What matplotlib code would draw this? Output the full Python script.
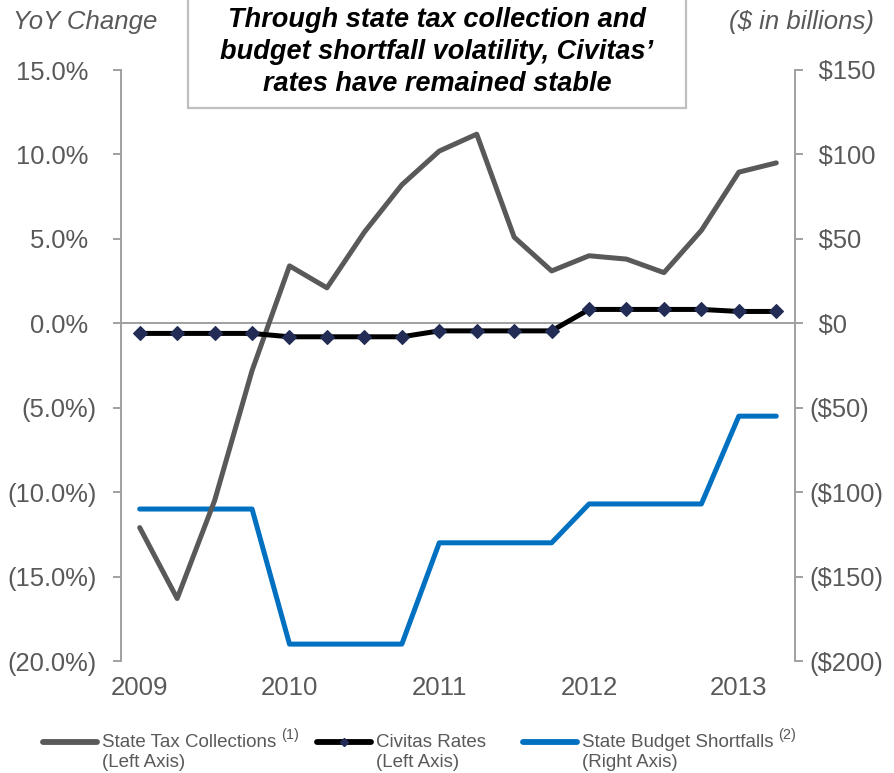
import numpy as np
import matplotlib
matplotlib.use("Agg")
import matplotlib.pyplot as plt
from matplotlib.patches import Rectangle
from matplotlib.lines import Line2D
from matplotlib.legend_handler import HandlerLine2D

plt.rcParams['font.family'] = ['Liberation Sans', 'DejaVu Sans']

# ---------------- data ----------------
quarters = ['2009Q1', '2009Q2', '2009Q3', '2009Q4',
            '2010Q1', '2010Q2', '2010Q3', '2010Q4',
            '2011Q1', '2011Q2', '2011Q3', '2011Q4',
            '2012Q1', '2012Q2', '2012Q3', '2012Q4',
            '2013Q1', '2013Q2']
tax_collections = [-12.1, -16.3, -10.5, -2.8, 3.4, 2.1, 5.4, 8.2, 10.2, 11.2,
                   5.1, 3.1, 4.0, 3.8, 3.0, 5.5, 8.95, 9.5]
civitas_rates = [-0.6, -0.6, -0.6, -0.6, -0.8, -0.8, -0.8, -0.8, -0.45, -0.45,
                 -0.45, -0.45, 0.82, 0.82, 0.82, 0.82, 0.7, 0.7]
budget_shortfalls = [-110, -110, -110, -110, -190, -190, -190, -190, -130, -130,
                     -130, -130, -107, -107, -107, -107, -55, -55]

year_labels = ['2009', '2010', '2011', '2012', '2013']
left_ticks = [-20, -15, -10, -5, 0, 5, 10, 15]
right_ticks = [-200, -150, -100, -50, 0, 50, 100, 150]

series_names = ['State Tax Collections\n(Left Axis)',
                'Civitas Rates\n(Left Axis)',
                'State Budget Shortfalls\n(Right Axis)']
footnotes = ['(1)', None, '(2)']

title = "Through state tax collection and\nbudget shortfall volatility, Civitas\u2019\nrates have remained stable"

# ---------------- styles ----------------
C_GREY = '#595959'
C_BLACK = '#000000'
C_NAVY = '#232C55'
C_BLUE = '#0070C0'
C_AXIS = '#A0A0A0'
C_TEXT = '#595959'
SP = '\u2004'


def pct_label(v):
    return f"{v:.1f}%{SP}" if v >= 0 else f"({abs(v):.1f}%)"


def usd_label(v):
    return f"{SP}${v:.0f}" if v >= 0 else f"(${abs(v):.0f})"


W, H = 894, 773
fig = plt.figure(figsize=(W / 100, H / 100), dpi=100)
ax = fig.add_axes([121 / W, 1 - 661 / H, (795 - 121) / W, (661 - 70) / H])
ax2 = ax.twinx()
ax.set_zorder(ax2.get_zorder() + 1)
ax.patch.set_visible(False)

x = np.arange(len(quarters))

ax.axhline(0, color=C_AXIS, lw=1.4, zorder=1)
ax.plot(x, tax_collections, color=C_GREY, lw=3.6, solid_capstyle='round',
        solid_joinstyle='round', zorder=3)
ax.plot(x, civitas_rates, color=C_BLACK, lw=3.6, marker='D', ms=6.8,
        mfc=C_NAVY, mec=C_NAVY, mew=0.8, solid_capstyle='round',
        solid_joinstyle='round', zorder=4)
ax2.plot(x, budget_shortfalls, color=C_BLUE, lw=3.6, solid_capstyle='round',
         solid_joinstyle='round')

ax.set_xlim(-0.5, len(quarters) - 0.5)
ax.set_ylim(left_ticks[0], left_ticks[-1])
ax2.set_ylim(right_ticks[0], right_ticks[-1])

year_pos = [i for i, q in enumerate(quarters) if q.endswith('Q1')]
ax.set_xticks(year_pos)
ax.set_xticklabels(year_labels)
ax.set_yticks(left_ticks)
ax.set_yticklabels([pct_label(v) for v in left_ticks])
ax2.set_yticks(right_ticks)
ax2.set_yticklabels([usd_label(v) for v in right_ticks])

for a in (ax, ax2):
    for s in ('top', 'bottom'):
        a.spines[s].set_visible(False)
ax.spines['right'].set_visible(False)
ax2.spines['left'].set_visible(False)
ax.spines['left'].set_color(C_AXIS)
ax.spines['left'].set_linewidth(1.4)
ax2.spines['right'].set_color(C_AXIS)
ax2.spines['right'].set_linewidth(1.4)

ax.tick_params(axis='y', direction='out', length=6, width=1.4, color=C_AXIS,
               labelcolor=C_TEXT, labelsize=18.4, pad=11.5)
ax2.tick_params(axis='y', direction='out', length=6, width=1.4, color=C_AXIS,
                labelcolor=C_TEXT, labelsize=18.4, pad=4.5)
ax.tick_params(axis='x', length=0, labelcolor=C_TEXT, labelsize=18.6, pad=11)

# axis captions
fig.text(13 / W, 1 - 22 / H, 'YoY Change', fontsize=18.5, style='italic',
         color=C_TEXT, ha='left', va='center')
fig.text(874 / W, 1 - 22 / H, '($ in billions)', fontsize=18.5, style='italic',
         color=C_TEXT, ha='right', va='center')

# title box
fig.patches.append(Rectangle((188 / W, 1 - 108 / H), (686 - 188) / W, 0.3,
                             transform=fig.transFigure, fc='white',
                             ec='#BFBFBF', lw=1.6, zorder=5))
fig.text(437 / W, 1 - 52 / H, title, fontsize=19.5, fontweight='bold',
         style='italic', color='black', ha='center', va='center',
         multialignment='center', linespacing=1.28, zorder=6)


# legends
class HandlerTop(HandlerLine2D):
    def __init__(self, shift, **kw):
        super().__init__(**kw)
        self.shift = shift

    def create_artists(self, legend, orig_handle, xdescent, ydescent, width,
                       height, fontsize, trans):
        arts = super().create_artists(legend, orig_handle, xdescent, ydescent,
                                      width, height, fontsize, trans)
        for a in arts:
            yd = np.asarray(a.get_ydata(), dtype=float)
            a.set_ydata(yd + self.shift * fontsize)
        return arts


handles = [
    Line2D([], [], color=C_GREY, lw=4.2, solid_capstyle='round'),
    Line2D([], [], color=C_BLACK, lw=4.2, marker='D', ms=4.5, mfc=C_NAVY,
           mec=C_NAVY, solid_capstyle='round'),
    Line2D([], [], color=C_BLUE, lw=4.2, solid_capstyle='round'),
]
leg_x = [43, 317, 523]
legends = []
for h, name, lx in zip(handles, series_names, leg_x):
    lg = fig.legend(handles=[h], labels=[name], loc='upper left',
                    bbox_to_anchor=(lx / W, 1 - 734 / H), frameon=False,
                    fontsize=13.5, handlelength=2.9, handletextpad=0.25,
                    borderpad=0, borderaxespad=0, labelcolor=C_TEXT,
                    handler_map={h: HandlerTop(0.55)})
    legends.append(lg)

# footnote superscripts next to the first label line
fig.canvas.draw()
renderer = fig.canvas.get_renderer()
for lg, note in zip(legends, footnotes):
    if not note:
        continue
    bb = lg.get_texts()[0].get_window_extent(renderer)
    fig.text((bb.x1 + 5) / W, (bb.y1 + 6) / H, note, fontsize=10.5,
             color=C_TEXT, ha='left', va='top')

fig.savefig('out.png', dpi=100)
